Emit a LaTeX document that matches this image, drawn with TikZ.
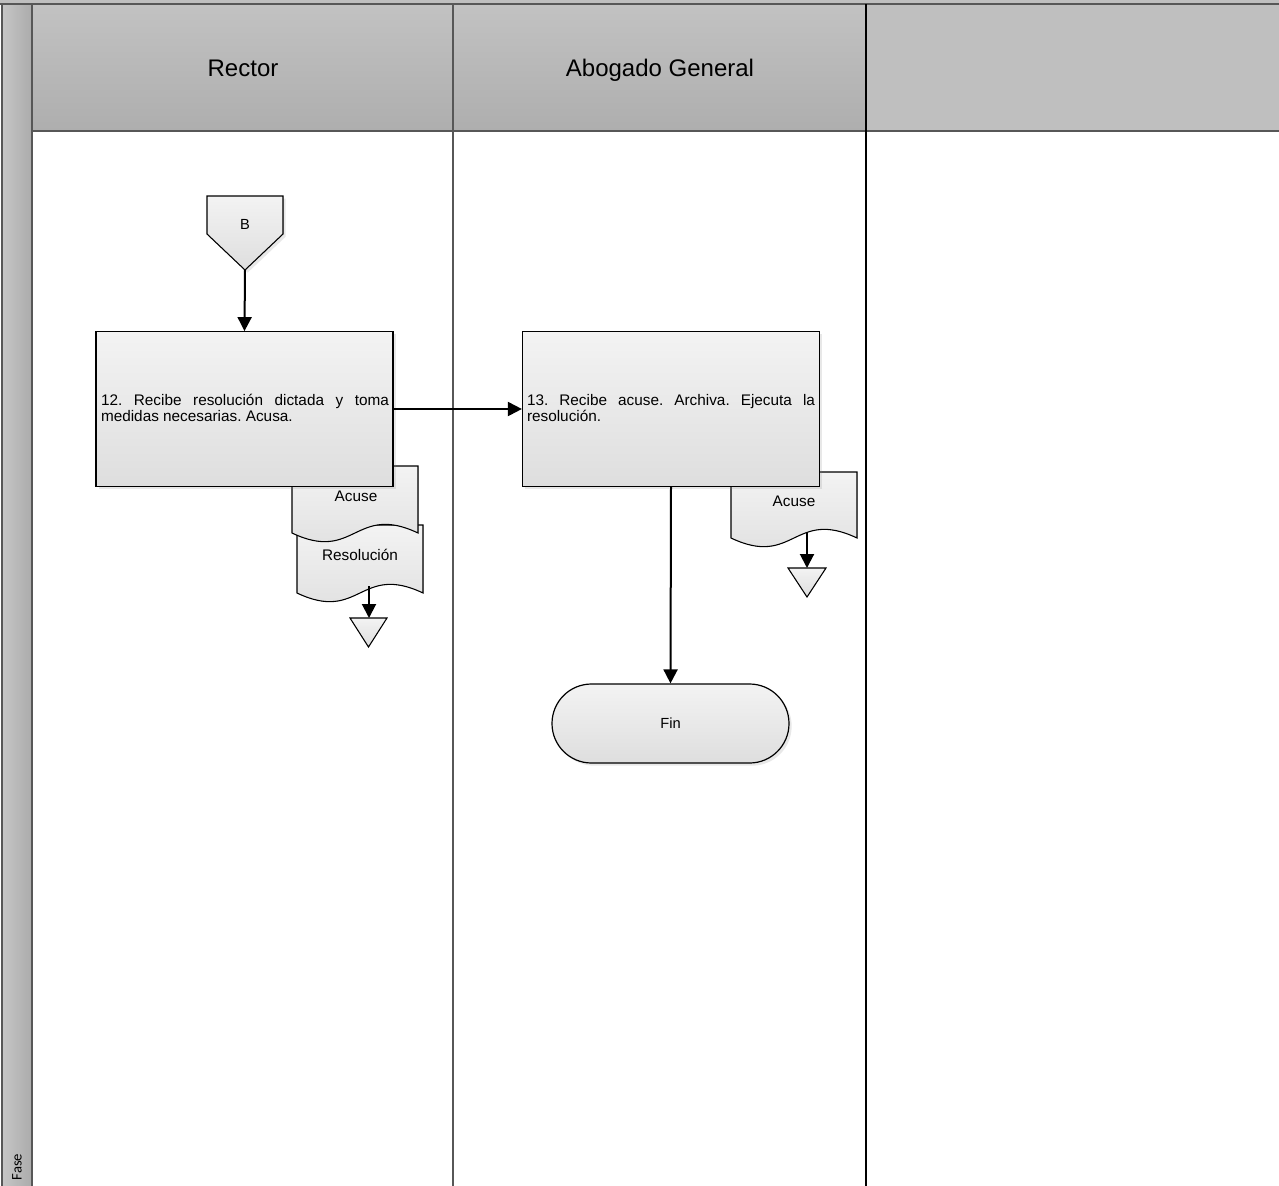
\documentclass[tikz,border=0pt]{standalone}
\usepackage{fontspec}
\setmainfont{Liberation Sans}
\newfontfamily\fasefont{Carlito}
\usetikzlibrary{arrows.meta,shadows}
\frenchspacing
\definecolor{headgray}{HTML}{BFBFBF}
\definecolor{headtop}{HTML}{C2C2C2}
\definecolor{headbot}{HTML}{AEAEAE}
\definecolor{stripl}{HTML}{C6C6C6}
\definecolor{stripr}{HTML}{ABABAB}
\definecolor{linegray}{HTML}{575757}
\definecolor{shapetop}{HTML}{F3F3F3}
\definecolor{shapebot}{HTML}{DEDEDE}
\tikzset{
  lanetitle/.style={font=\fontsize{18}{20}\selectfont, text=black, anchor=base},
  procbox/.style={draw=black, line width=0.9pt, top color=shapetop, bottom color=shapebot,
    minimum width=222.75pt, minimum height=116pt, inner sep=3pt,
    drop shadow={opacity=0.18, shadow xshift=2pt, shadow yshift=-2pt}},
  boxtext/.style={font=\fontsize{11.5}{11.5}\selectfont, text width=216pt, align=justify},
  doclabel/.style={font=\fontsize{11.5}{13}\selectfont},
  docfill/.style={draw=black, line width=0.8pt, top color=shapetop, bottom color=shapebot},
  arr/.style={-{Triangle[width=10.5pt,length=10.5pt]}, line width=1.5pt, black},
  term/.style={draw=black, line width=0.9pt, top color=shapetop, bottom color=shapebot,
    minimum width=177.75pt, minimum height=59.25pt, rounded corners=29.6pt,
    font=\fontsize{11}{13}\selectfont,
    drop shadow={opacity=0.18, shadow xshift=2pt, shadow yshift=-2pt}}
}
\begin{document}
\begin{tikzpicture}[x=0.75pt,y=-0.75pt]
\useasboundingbox (0,0) rectangle (1279,1186);
\fill[white] (0,0) rectangle (1279,1186);
% pool frame
\fill[headgray] (-5,-5) rectangle (1290,4);
\shade[left color=stripl, right color=stripr] (2,4) rectangle (32,1195);
\shade[top color=headtop, bottom color=headbot] (32,4) rectangle (866,131);
\fill[headgray] (866,4) rectangle (1290,131);
\draw[linegray, line width=1.4pt] (-5,4) -- (1290,4);
\draw[linegray, line width=1.4pt] (2,4) -- (2,1195);
\draw[linegray, line width=1.4pt] (32,4) -- (32,1195);
\draw[linegray, line width=1.2pt] (32,131) -- (1290,131);
\draw[linegray, line width=0.9pt] (453,4) -- (453,1195);
\draw[black, line width=1.4pt] (866,4) -- (866,1195);
\node[lanetitle] (rector) at (243,76) {Rector};
\node[lanetitle] (abogado) at (660,76) {Abogado General};
\node[rotate=90, font=\fasefont\fontsize{11}{12}\selectfont] (fase) at (17,1167) {Fase};
% off-page connector B
\filldraw[docfill, drop shadow={opacity=0.18, shadow xshift=2pt, shadow yshift=-2pt}]
  (207,196) -- (283,196) -- (283,234) -- (245,270) -- (207,234) -- cycle;
\node[font=\fontsize{11}{13}\selectfont] (B) at (245,224) {B};
\coordinate (Bpt) at (245,270);
% documents (Rector)
\filldraw[docfill] (297,525) -- (423,525) -- (423,593)
  .. controls (360,563) and (360,623) .. (297,593) -- cycle;
\node[doclabel] (resol) at (360,555) {Resolución};
\filldraw[docfill] (292,466) -- (418,466) -- (418,533)
  .. controls (355,503) and (355,563) .. (292,533) -- cycle;
\node[doclabel] (acuse1) at (356,496) {Acuse};
% process 12
\node[procbox] (box12) at (244.5,409) {};
\node[boxtext] (t12) at (245,408) {12. Recibe resolución dictada y toma\linebreak medidas necesarias. Acusa.};
% Archive triangle (Rector)
\filldraw[docfill] (350,618) -- (387,618) -- (368.5,647) -- cycle;
\coordinate (tri1) at (369,618);
\coordinate (res1) at (369,586);
\draw[arr] (res1) -- (tri1);
% documents (Abogado)
\filldraw[docfill] (731,472) -- (857,472) -- (857,538)
  .. controls (794,508) and (794,568) .. (731,538) -- cycle;
\node[doclabel] (acuse2) at (794,501) {Acuse};
% process 13
\node[procbox] (box13) at (671,409) {};
\node[boxtext] (t13) at (671,408) {13. Recibe acuse. Archiva. Ejecuta la\linebreak resolución.};
% archive triangle (Abogado)
\filldraw[docfill] (788,568) -- (826,568) -- (807,597) -- cycle;
\coordinate (tri2) at (807,568);
\coordinate (ac2) at (807,532);
\draw[arr] (ac2) -- (tri2);
% Fin
\node[term] (fin) at (670.5,723.5) {Fin};
% connectors
\draw[arr] (Bpt) -- (box12.north);
\draw[arr] (box12.east) -- (box13.west);
\draw[arr] (box13.south) -- (fin.north);
\end{tikzpicture}
\end{document}
